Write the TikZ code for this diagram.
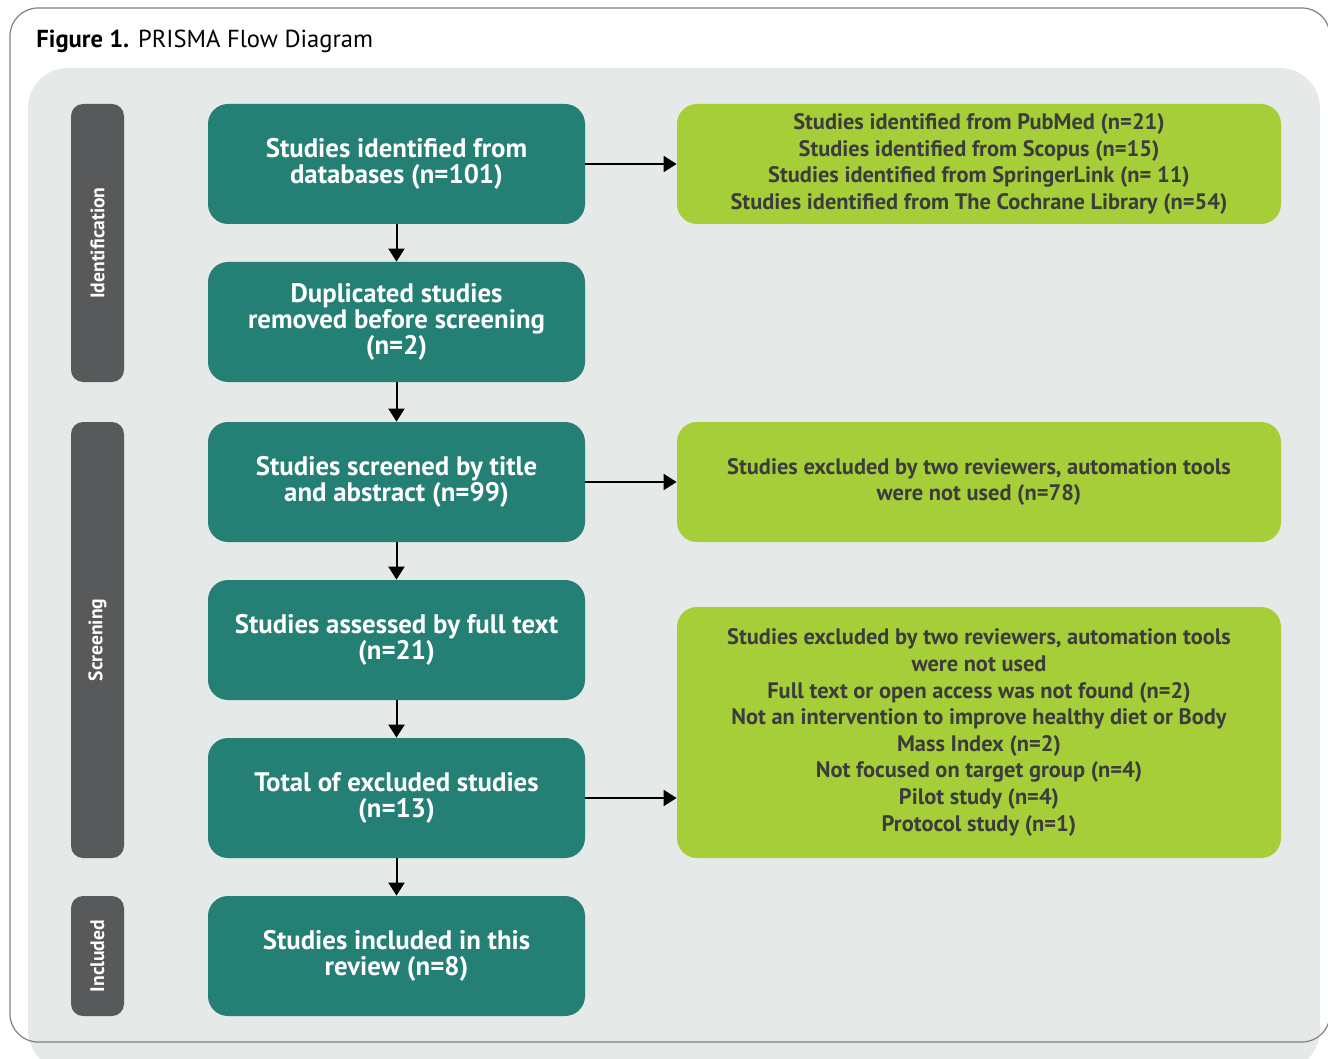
\documentclass[tikz,border=0pt]{standalone}
\usepackage{fontspec}
\setmainfont{PT Sans}
\usetikzlibrary{arrows.meta, positioning}
\definecolor{stageteal}{HTML}{247F74}
\definecolor{notegreen}{HTML}{A6CE39}
\definecolor{sidegray}{HTML}{58595B}
\definecolor{panelgray}{HTML}{E5E9E8}
\definecolor{notetext}{HTML}{3C3C3C}

\begin{document}
\begin{tikzpicture}[x=0.5pt, y=-0.5pt,
    stage/.style={fill=stageteal, rounded corners=10pt, minimum width=188.5pt, minimum height=60pt,
        inner sep=0pt, align=center, text=white, font=\bfseries\fontsize{13.4}{13.1}\selectfont},
    note/.style={fill=notegreen, rounded corners=10pt, minimum width=302pt, minimum height=60pt,
        inner sep=0pt, align=center, text=notetext, font=\bfseries\fontsize{11.2}{13.3}\selectfont},
    sidebar/.style={fill=sidegray, rounded corners=6pt, rotate=90, minimum height=26.5pt,
        inner sep=0pt, text=white, font=\bfseries\fontsize{9.8}{10}\selectfont},
    flow/.style={line width=1pt, -{Triangle[width=8pt, length=6.5pt]}}]
    \clip (0,0) rectangle (1328,1059);

    % Panel and frame
    \fill[panelgray] (28,68) [rounded corners=20pt] rectangle (1320,1070);
    \draw[gray, line width=0.6pt, rounded corners=14pt] (10,8) rectangle (1330,1042);

    % Title
    \node[anchor=base west, inner sep=0pt, font=\fontsize{12.3}{13}\selectfont] (title) at (36,48)
        {\textbf{Figure 1.} PRISMA Flow Diagram};

    % Phases
    \node[sidebar, minimum width=139pt] (identlab) at (97.5,243) {Identification};
    \node[sidebar, minimum width=218pt] (screenlab) at (97.5,640) {Screening};
    \node[sidebar, minimum width=60pt] (incllab) at (97.5,956) {Included};

    % Main flow
    \node[stage] (found) at (396.5,164) {Studies identified from\\databases (n=101)};
    \node[stage] (dupl) at (396.5,322) {Duplicated studies\\removed before screening\\(n=2)};
    \node[stage] (screened) at (396.5,482) {Studies screened by title\\and abstract (n=99)};
    \node[stage] (assessed) at (396.5,640) {Studies assessed by full text\\(n=21)};
    \node[stage] (excluded) at (396.5,798) {Total of excluded studies\\(n=13)};
    \node[stage] (included) at (396.5,956) {Studies included in this\\review (n=8)};

    % Side notes
    \node[note] (sources) at (979,164) {Studies identified from PubMed (n=21)\\
        Studies identified from Scopus (n=15)\\
        Studies identified from SpringerLink (n= 11)\\
        Studies identified from The Cochrane Library (n=54)};
    \node[note] (reviewers) at (979,482) {Studies excluded by two reviewers, automation tools\\
        were not used (n=78)};
    \node[note, minimum height=125.5pt] (reasons) at (979,732.5) {Studies excluded by two reviewers, automation tools\\
        were not used\\
        Full text or open access was not found (n=2)\\
        Not an intervention to improve healthy diet or Body\\
        Mass Index (n=2)\\
        Not focused on target group (n=4)\\
        Pilot study (n=4)\\
        Protocol study (n=1)};

    % Arrows
    \draw[flow] (found) -- (dupl);
    \draw[flow] (dupl) -- (screened);
    \draw[flow] (screened) -- (assessed);
    \draw[flow] (assessed) -- (excluded);
    \draw[flow] (excluded) -- (included);
    \draw[flow] (found) -- (sources);
    \draw[flow] (screened) -- (reviewers);
    \draw[flow] (excluded.east) -- (excluded.east -| reasons.west);
\end{tikzpicture}
\end{document}
